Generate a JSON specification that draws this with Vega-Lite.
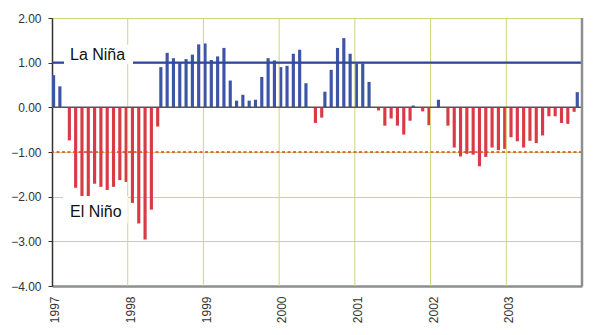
{
  "$schema": "https://vega.github.io/schema/vega-lite/v6.json",
  "width": 530,
  "height": 268,
  "autosize": {"type": "none"},
  "padding": {"left": 52, "top": 18, "right": 18, "bottom": 49},
  "background": "white",
  "config": {
    "view": {"stroke": "#9a9d9d", "strokeWidth": 1},
    "font": "Liberation Sans"
  },
  "datasets": {
    "soi": [
      {"m": "1997-01", "v": 0.72}, {"m": "1997-02", "v": 0.47}, {"m": "1997-03", "v": -0.74}, {"m": "1997-04", "v": -1.80},
      {"m": "1997-05", "v": -1.99}, {"m": "1997-06", "v": -1.99}, {"m": "1997-07", "v": -1.71}, {"m": "1997-08", "v": -1.78},
      {"m": "1997-09", "v": -1.85}, {"m": "1997-10", "v": -1.78}, {"m": "1997-11", "v": -1.63}, {"m": "1997-12", "v": -1.67},
      {"m": "1998-01", "v": -2.14}, {"m": "1998-02", "v": -2.60}, {"m": "1998-03", "v": -2.96}, {"m": "1998-04", "v": -2.29},
      {"m": "1998-05", "v": -0.43}, {"m": "1998-06", "v": 0.90}, {"m": "1998-07", "v": 1.22}, {"m": "1998-08", "v": 1.10},
      {"m": "1998-09", "v": 0.99}, {"m": "1998-10", "v": 1.08}, {"m": "1998-11", "v": 1.18}, {"m": "1998-12", "v": 1.41},
      {"m": "1999-01", "v": 1.43}, {"m": "1999-02", "v": 1.06}, {"m": "1999-03", "v": 1.14}, {"m": "1999-04", "v": 1.33},
      {"m": "1999-05", "v": 0.60}, {"m": "1999-06", "v": 0.15}, {"m": "1999-07", "v": 0.28}, {"m": "1999-08", "v": 0.15},
      {"m": "1999-09", "v": 0.17}, {"m": "1999-10", "v": 0.68}, {"m": "1999-11", "v": 1.10}, {"m": "1999-12", "v": 1.05},
      {"m": "2000-01", "v": 0.90}, {"m": "2000-02", "v": 0.93}, {"m": "2000-03", "v": 1.20}, {"m": "2000-04", "v": 1.29},
      {"m": "2000-05", "v": 0.54}, {"m": "2000-06", "v": -0.35}, {"m": "2000-07", "v": -0.23}, {"m": "2000-08", "v": 0.35},
      {"m": "2000-09", "v": 0.84}, {"m": "2000-10", "v": 1.33}, {"m": "2000-11", "v": 1.55}, {"m": "2000-12", "v": 1.20},
      {"m": "2001-01", "v": 0.98}, {"m": "2001-02", "v": 0.98}, {"m": "2001-03", "v": 0.57}, {"m": "2001-04", "v": -0.07},
      {"m": "2001-05", "v": -0.41}, {"m": "2001-06", "v": -0.25}, {"m": "2001-07", "v": -0.41}, {"m": "2001-08", "v": -0.61},
      {"m": "2001-09", "v": -0.30}, {"m": "2001-10", "v": 0.04}, {"m": "2001-11", "v": -0.09}, {"m": "2001-12", "v": -0.40},
      {"m": "2002-01", "v": 0.0}, {"m": "2002-02", "v": 0.17}, {"m": "2002-03", "v": -0.41}, {"m": "2002-04", "v": -0.90},
      {"m": "2002-05", "v": -1.10}, {"m": "2002-06", "v": -1.04}, {"m": "2002-07", "v": -1.06}, {"m": "2002-08", "v": -1.32},
      {"m": "2002-09", "v": -1.11}, {"m": "2002-10", "v": -0.90}, {"m": "2002-11", "v": -0.96}, {"m": "2002-12", "v": -0.93},
      {"m": "2003-01", "v": -0.67}, {"m": "2003-02", "v": -0.76}, {"m": "2003-03", "v": -0.90}, {"m": "2003-04", "v": -0.75},
      {"m": "2003-05", "v": -0.80}, {"m": "2003-06", "v": -0.63}, {"m": "2003-07", "v": -0.20}, {"m": "2003-08", "v": -0.20},
      {"m": "2003-09", "v": -0.35}, {"m": "2003-10", "v": -0.37}, {"m": "2003-11", "v": -0.10}, {"m": "2003-12", "v": 0.34}
    ]
  },
  "data": {"values": [{}]},
  "resolve": {"scale": {"x": "independent"}},
  "layer": [
    {
      "data": {"name": "soi"},
      "transform": [{"calculate": "datum.v >= 0 ? 'pos' : 'neg'", "as": "sign"}],
      "mark": {"type": "bar"},
      "encoding": {
        "x": {
          "field": "m", "type": "ordinal", "sort": null,
          "scale": {"paddingInner": 0, "paddingOuter": 0},
          "axis": {
            "title": null,
            "values": ["1997-01", "1998-01", "1999-01", "2000-01", "2001-01", "2002-01", "2003-01"],
            "labelExpr": "slice(datum.label, 0, 4)",
            "labelAngle": 270,
            "bandPosition": 0.5,
            "labelFontSize": 12,
            "labelColor": "#333333",
            "labelPadding": 10,
            "ticks": false,
            "tickSize": 0,
            "grid": false,
            "domainColor": "#8c8f8f",
            "domainWidth": 2.5
          }
        },
        "xOffset": {
          "field": "sign", "type": "nominal",
          "scale": {"domain": ["pos", "neg"], "paddingInner": 0, "paddingOuter": 0}
        },
        "y": {
          "field": "v", "type": "quantitative",
          "scale": {"domain": [-4, 2], "nice": false},
          "axis": {
            "title": null,
            "values": [-4, -3, -2, -1, 0, 1, 2],
            "format": ".2f",
            "labelFontSize": 12,
            "labelColor": "#333333",
            "labelPadding": 7,
            "tickSize": 4,
            "tickColor": "#333333",
            "domainColor": "#333333",
            "domainWidth": 1.5,
            "gridColor": "#cdd77a",
            "gridWidth": 1
          }
        },
        "color": {
          "field": "sign", "type": "nominal",
          "scale": {"domain": ["pos", "neg"], "range": ["#3d55a5", "#d83b46"]},
          "legend": null
        }
      }
    },
    {
      "mark": {"type": "rule", "stroke": "#cdd77a", "strokeWidth": 1},
      "data": {"values": [{"yr": 12}, {"yr": 24}, {"yr": 36}, {"yr": 48}, {"yr": 60}, {"yr": 72}]},
      "encoding": {
        "x": {"field": "yr", "type": "quantitative", "scale": {"domain": [0, 84], "nice": false, "zero": false}, "axis": null}
      }
    },
    {
      "mark": {"type": "rule", "stroke": "#555555", "strokeWidth": 1.5},
      "encoding": {"y": {"datum": 0}}
    },
    {
      "mark": {"type": "rule", "stroke": "#2f4a9a", "strokeWidth": 2.2},
      "encoding": {"y": {"datum": 1}}
    },
    {
      "mark": {"type": "rule", "stroke": "#e03c3c", "strokeWidth": 1.5, "strokeDash": [3, 2.5]},
      "encoding": {"y": {"datum": -1}}
    },
    {
      "mark": {"type": "rect", "fill": "white"},
      "encoding": {
        "x": {"datum": 1.9, "type": "quantitative", "scale": {"domain": [0, 84], "nice": false, "zero": false}, "axis": null},
        "x2": {"datum": 12.84},
        "y": {"datum": 1.4},
        "y2": {"datum": 0.965}
      }
    },
    {
      "mark": {"type": "rect", "fill": "white"},
      "encoding": {
        "x": {"datum": 1.75, "type": "quantitative", "scale": {"domain": [0, 84], "nice": false, "zero": false}, "axis": null},
        "x2": {"datum": 12.0},
        "y": {"datum": -1.985},
        "y2": {"datum": -2.6}
      }
    },
    {
      "mark": {"type": "text", "align": "left", "baseline": "alphabetic", "fontSize": 16, "color": "#111111", "font": "Liberation Sans"},
      "encoding": {
        "x": {"datum": 2.85, "type": "quantitative", "scale": {"domain": [0, 84], "nice": false, "zero": false}, "axis": null},
        "y": {"datum": 1.05},
        "text": {"value": "La Niña"}
      }
    },
    {
      "mark": {"type": "text", "align": "left", "baseline": "alphabetic", "fontSize": 16, "color": "#111111", "font": "Liberation Sans"},
      "encoding": {
        "x": {"datum": 2.85, "type": "quantitative", "scale": {"domain": [0, 84], "nice": false, "zero": false}, "axis": null},
        "y": {"datum": -2.46},
        "text": {"value": "El Niño"}
      }
    },
    {
      "mark": {"type": "rule", "stroke": "#8c8f8f", "strokeWidth": 2.5},
      "encoding": {
        "x": {"datum": 84, "type": "quantitative", "scale": {"domain": [0, 84], "nice": false, "zero": false}, "axis": null}
      }
    }
  ]
}
